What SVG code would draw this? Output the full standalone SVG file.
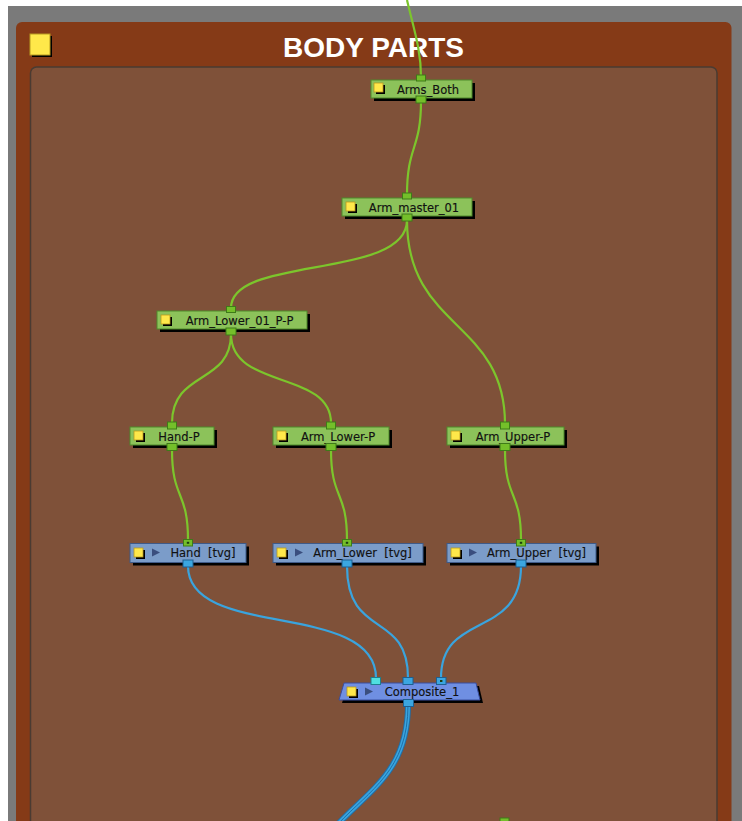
<svg xmlns="http://www.w3.org/2000/svg" width="742" height="821" viewBox="0 0 742 821">
<style>
.lbl{font-family:"DejaVu Sans","Liberation Sans",sans-serif;font-size:11.5px;fill:#111;stroke:#111;stroke-width:0.15;text-anchor:middle}
.title{font-family:"Liberation Sans",Arial,sans-serif;font-size:28px;font-weight:bold;fill:#fff;text-anchor:middle}
.shadow{fill:#000}
.gnode{fill:#8CC25A;stroke:#4F8A2A;stroke-width:1}
.bnode{fill:#7B9CC9;stroke:#3F5A88;stroke-width:1}
.cnode{fill:#6F8FE2;stroke:#3A4E9E;stroke-width:1}
.icon{fill:#FFE84A;stroke:#B89A20;stroke-width:0.8}
.gport{fill:#74BF2A;stroke:#3E7A18;stroke-width:1}
.bport{fill:#3BA6E0;stroke:#1E5F90;stroke-width:1}
.cport{fill:#4FE0E0;stroke:#1E7F90;stroke-width:1}
.dot{fill:#1d3d10}
.play{fill:#3A4E7E}
.gl{fill:none;stroke:#7CC52C;stroke-width:2.2}
.bl{fill:none;stroke:#3AA4DE;stroke-width:2.2}
</style>
<defs>
<g id="ic"><rect x="2" y="2" width="9" height="9" class="shadow"/><rect x="0" y="0" width="9" height="9" class="icon"/></g>
</defs>
<rect x="0" y="0" width="742" height="821" fill="#fff"/>
<rect x="8" y="6" width="734" height="815" fill="#7A7A7A"/>
<rect x="16" y="22" width="715.5" height="820" rx="6" fill="#853A17"/>
<rect x="30.5" y="67" width="686.5" height="800" rx="6" fill="#7F5139" stroke="#4A3B32" stroke-width="1.5"/>
<g id="title">
<rect x="32" y="36" width="20" height="21" class="shadow"/>
<rect x="30" y="34" width="20" height="21" fill="#FFE84A" stroke="#B89A20" stroke-width="1"/>
<text x="373.5" y="57" class="title">BODY PARTS</text>
</g>
<g id="connectors">
<path class="gl" d="M407,0 C414,30 421,50 421,77"/>
<path class="gl" d="M421,101 C421,150 407,145 407,195"/>
<path class="gl" d="M407,220 C407,280 231,255 231,308"/>
<path class="gl" d="M407,220 C407,330 505,320 505,424"/>
<path class="gl" d="M231,334 C231,385 172,370 172,423"/>
<path class="gl" d="M231,334 C231,390 331,370 331,423"/>
<path class="gl" d="M172,450 C172,500 188,490 188,540"/>
<path class="gl" d="M331,450 C331,500 347,490 347,540"/>
<path class="gl" d="M505,450 C505,500 521,490 521,540"/>
<path class="bl" d="M188,566 C188,640 376,600 376,678"/>
<path class="bl" d="M347,566 C347,640 408,610 408,678"/>
<path class="bl" d="M521,566 C521,640 441,610 441,678"/>
<path fill="none" stroke="#1F6FA8" stroke-width="6" d="M408,705 C408,770 370,790 338,824"/>
<path fill="none" stroke="#3AA4DE" stroke-width="4" d="M408,705 C408,770 370,790 338,824"/>
<path fill="none" stroke="#1F6FA8" stroke-width="1" d="M408,705 C408,770 370,790 338,824"/>
</g>
<g id="Arms_Both">
<rect x="374" y="83" width="101" height="18" class="shadow"/>
<rect x="371" y="80" width="101" height="18" class="gnode"/>
<use href="#ic" x="374" y="83"/>
<text x="428" y="93.5" class="lbl">Arms_Both</text>
<rect x="416.5" y="75" width="9" height="6" class="gport"/>
<rect x="416" y="96" width="10" height="7" class="gport"/>
</g>
<g id="Arm_master_01">
<rect x="345" y="201" width="130" height="18" class="shadow"/>
<rect x="342" y="198" width="130" height="18" class="gnode"/>
<use href="#ic" x="346" y="202"/>
<text x="414" y="211.5" class="lbl">Arm_master_01</text>
<rect x="402.5" y="193" width="9" height="6" class="gport"/>
<rect x="402" y="214" width="10" height="7" class="gport"/>
</g>
<g id="Arm_Lower_01_P-P">
<rect x="160" y="314" width="150" height="18" class="shadow"/>
<rect x="157" y="311" width="150" height="18" class="gnode"/>
<use href="#ic" x="161" y="315"/>
<text x="239.5" y="324.5" class="lbl">Arm_Lower_01_P-P</text>
<rect x="226.5" y="306.5" width="9" height="6" class="gport"/>
<rect x="226" y="328" width="10" height="7" class="gport"/>
</g>
<g id="Hand-P">
<rect x="133" y="430" width="84" height="18" class="shadow"/>
<rect x="130" y="427" width="84" height="18" class="gnode"/>
<use href="#ic" x="134" y="431"/>
<text x="179" y="440.5" class="lbl">Hand-P</text>
<rect x="167.5" y="422" width="9" height="7" class="gport"/>
<rect x="167" y="443.5" width="10" height="7" class="gport"/>
</g>
<g id="Arm_Lower-P">
<rect x="276" y="430" width="116" height="18" class="shadow"/>
<rect x="273" y="427" width="116" height="18" class="gnode"/>
<use href="#ic" x="277" y="431"/>
<text x="338" y="440.5" class="lbl">Arm_Lower-P</text>
<rect x="326.5" y="422" width="9" height="7" class="gport"/>
<rect x="326" y="443.5" width="10" height="7" class="gport"/>
</g>
<g id="Arm_Upper-P">
<rect x="450" y="430" width="117" height="18" class="shadow"/>
<rect x="447" y="427" width="117" height="18" class="gnode"/>
<use href="#ic" x="451" y="431"/>
<text x="513" y="440.5" class="lbl">Arm_Upper-P</text>
<rect x="500.5" y="422" width="9" height="7" class="gport"/>
<rect x="500" y="443.5" width="10" height="7" class="gport"/>
</g>
<g id="Hand_tvg">
<rect x="133" y="546.5" width="116" height="19" class="shadow"/>
<rect x="130" y="543.5" width="116" height="19" class="bnode"/>
<use href="#ic" x="134" y="548"/>
<polygon points="152,548.5 160,552.5 152,556.5" class="play"/>
<text x="203" y="557" class="lbl" xml:space="preserve">Hand  [tvg]</text>
<rect x="183.5" y="539.5" width="9" height="6.5" class="gport"/>
<rect x="186.8" y="541.8" width="2.4" height="2" class="dot"/>
<rect x="183" y="560" width="10" height="7" class="bport"/>
</g>
<g id="Arm_Lower_tvg">
<rect x="276" y="546.5" width="150" height="19" class="shadow"/>
<rect x="273" y="543.5" width="150" height="19" class="bnode"/>
<use href="#ic" x="277" y="548"/>
<polygon points="295,548.5 303,552.5 295,556.5" class="play"/>
<text x="362.5" y="557" class="lbl" xml:space="preserve">Arm_Lower  [tvg]</text>
<rect x="342.5" y="539.5" width="9" height="6.5" class="gport"/>
<rect x="345.8" y="541.8" width="2.4" height="2" class="dot"/>
<rect x="342" y="560" width="10" height="7" class="bport"/>
</g>
<g id="Arm_Upper_tvg">
<rect x="450" y="546.5" width="149" height="19" class="shadow"/>
<rect x="447" y="543.5" width="149" height="19" class="bnode"/>
<use href="#ic" x="451" y="548"/>
<polygon points="469,548.5 477,552.5 469,556.5" class="play"/>
<text x="536.5" y="557" class="lbl" xml:space="preserve">Arm_Upper  [tvg]</text>
<rect x="516.5" y="539.5" width="9" height="6.5" class="gport"/>
<rect x="519.8" y="541.8" width="2.4" height="2" class="dot"/>
<rect x="516" y="560" width="10" height="7" class="bport"/>
</g>
<g id="Composite_1">
<polygon points="347,686 479,686 483,703 342,703" class="shadow"/>
<polygon points="344,683 476,683 480,700 339,700" class="cnode"/>
<use href="#ic" x="347" y="687"/>
<polygon points="365,687.5 373,691.5 365,695.5" class="play"/>
<text x="422" y="696" class="lbl">Composite_1</text>
<rect x="371" y="677.5" width="9.5" height="7" class="cport"/>
<rect x="403" y="677.5" width="10" height="7" class="bport"/>
<rect x="436.5" y="677.5" width="9.5" height="7" class="bport"/>
<rect x="440" y="680" width="2.4" height="2" class="dot"/>
<rect x="403.5" y="699.5" width="10" height="7" class="bport"/>
</g>
<g id="offscreen_port">
<rect x="500" y="818" width="9" height="6" class="gport"/>
</g>
</svg>
